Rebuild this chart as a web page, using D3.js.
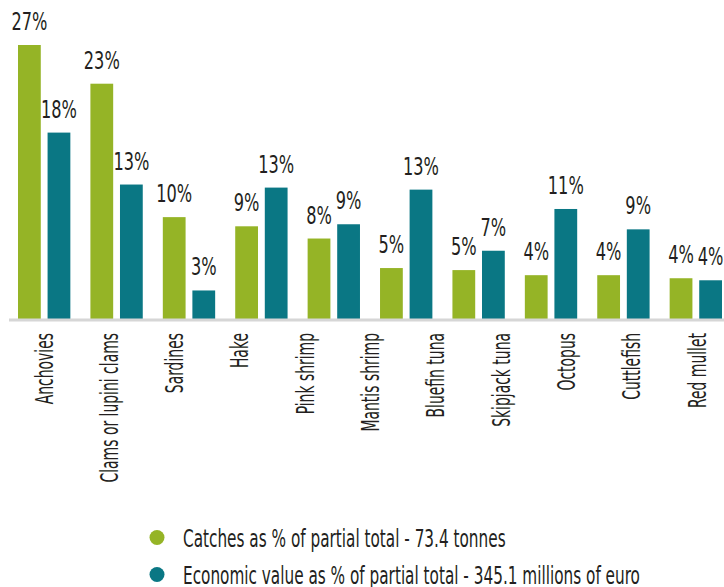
<!DOCTYPE html>
<html>
<head>
<meta charset="utf-8">
<script src="https://cdn.jsdelivr.net/npm/d3@7"></script>
<style>
  body { margin: 0; background: #fff; }
  text { font-family: "Liberation Sans Narrow", "DejaVu Sans Condensed", sans-serif; fill: #231f20; }
</style>
</head>
<body>
<div id="chart"></div>
<script>
// category labels under the axis (11 labels, the source only draws 10 bar pairs)
const categories = ["Anchovies", "Clams or lupini clams", "Sardines", "Hake", "Pink shrimp",
  "Mantis shrimp", "Bluefin tuna", "Skipjack tuna", "Octopus", "Cuttlefish", "Red mullet"];

// % values
const catches = [27.0, 23.2, 10.1, 9.2, 8.0, 5.1, 4.9, 4.4, 4.4, 4.1];
const economic = [18.4, 13.3, 2.9, 13.0, 9.4, 12.8, 6.8, 10.9, 8.9, 3.9];

const seriesNames = ["Catches as % of partial total - 73.4 tonnes",
  "Economic value as % of partial total - 345.1 millions of euro"];
const colors = ["#95b426", "#0a7784"];

const width = 724, height = 587;
const baseY = 320;
// horizontal squeeze to mimic the condensed font of the original
const sqVal = 0.72, sqCat = 0.62, sqLeg = 0.68;

const svg = d3.select("#chart")
  .append("svg")
  .attr("width", width)
  .attr("height", height);

const x0 = d3.scaleBand()
  .domain(d3.range(catches.length))
  .range([18, 722])
  .paddingInner(0.277)
  .paddingOuter(0);

const x1 = d3.scaleBand()
  .domain([0, 1])
  .range([0, x0.bandwidth()])
  .paddingInner(0.23);

const xLab = d3.scalePoint()
  .domain(categories)
  .range([43, 696]);

const y = d3.scaleLinear()
  .domain([0, 27])
  .range([baseY, 45]);

const rows = catches.map((c, i) => ({ i, vals: [c, economic[i]] }));

const groups = svg.selectAll(".grp")
  .data(rows)
  .enter().append("g")
  .attr("class", "grp")
  .attr("transform", d => `translate(${x0(d.i)},0)`);

groups.selectAll("rect")
  .data(d => d.vals.map((v, k) => ({ k, v })))
  .enter().append("rect")
  .attr("x", d => x1(d.k))
  .attr("y", d => y(d.v))
  .attr("width", x1.bandwidth())
  .attr("height", d => baseY - y(d.v))
  .attr("fill", d => colors[d.k]);

// value labels
groups.selectAll(".val")
  .data(d => d.vals.map((v, k) => ({ k, v })))
  .enter().append("text")
  .attr("class", "val")
  .attr("text-anchor", "middle")
  .attr("font-size", 25)
  .attr("transform", d => `translate(${x1(d.k) + x1.bandwidth() / 2},${y(d.v) - 15}) scale(${sqVal},1)`)
  .text(d => Math.round(d.v) + "%");

// axis
const axis = svg.append("g")
  .attr("transform", `translate(0,${baseY})`)
  .call(d3.axisBottom(xLab).tickSize(0).tickPadding(0));

axis.select(".domain")
  .attr("d", `M9,0H${width}`)
  .attr("stroke", "#d6d6d6")
  .attr("stroke-width", 3);

axis.selectAll(".tick text")
  .attr("font-size", 25)
  .attr("fill", "#231f20")
  .attr("text-anchor", "end")
  .attr("y", 0)
  .attr("dy", "0.36em")
  .attr("transform", `translate(0,13) rotate(-90) scale(${sqCat},1)`);

// legend
const legend = svg.selectAll(".leg")
  .data(seriesNames)
  .enter().append("g")
  .attr("class", "leg")
  .attr("transform", (d, i) => `translate(157,${537.5 + i * 37})`);

legend.append("circle")
  .attr("r", 7.5)
  .attr("fill", (d, i) => colors[i]);

legend.append("text")
  .attr("font-size", 25)
  .attr("transform", `translate(26,9) scale(${sqLeg},1)`)
  .text(d => d);
</script>
</body>
</html>
